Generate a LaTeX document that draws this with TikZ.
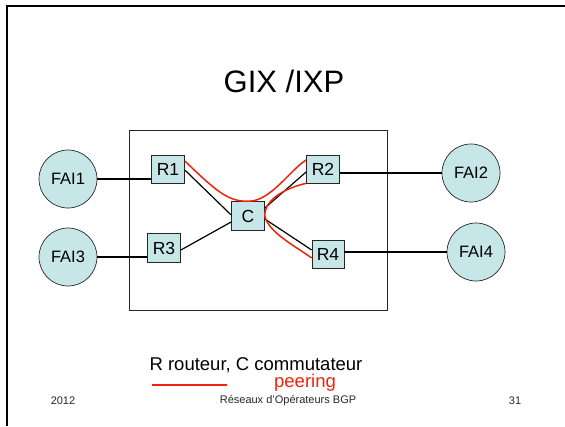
\documentclass[tikz,border=0pt]{standalone}
\usepackage{fontspec}
\setmainfont{Liberation Sans}
\definecolor{boxfill}{RGB}{198,230,232}
\definecolor{peer}{RGB}{240,36,12}
\definecolor{foot}{RGB}{40,40,40}
\begin{document}
\begin{tikzpicture}[x=1pt,y=-1pt,
  rbox/.style={draw=black!85,line width=0.7pt,fill=boxfill,minimum width=33pt,minimum height=28pt,inner sep=0pt,font=\fontsize{17.5}{17.5}\selectfont},
  fai/.style={circle,draw=black!85,line width=0.7pt,fill=boxfill,minimum size=58pt,inner sep=0pt,font=\fontsize{16.5}{16.5}\selectfont},
  link/.style={draw=black,line width=1.2pt},
  peerline/.style={draw=peer,line width=1.5pt},
  foottext/.style={text=foot,font=\fontsize{11}{11}\selectfont}]
\useasboundingbox (0,0) rectangle (565,426);
\fill[white] (0,0) rectangle (565,426);
% slide frame
\draw[line width=2pt] (6.5,426) -- (6.5,5.5) -- (565,5.5);
% title
\node[font=\fontsize{31}{31}\selectfont] (title) at (284,81) {GIX /IXP};
% IXP box
\draw[draw=black!85,line width=1pt] (129,130) rectangle (387,310);
% routers
\node[rbox] (R1) at (168,169) {R1};
\node[rbox] (R2) at (323,169) {R2};
\node[rbox,minimum height=29pt] (C) at (248,216) {C};
\node[rbox,minimum height=29pt] (R3) at (164,248) {R3};
\node[rbox,minimum width=32pt] (R4) at (328,254) {R4};
% ISPs
\node[fai] (F1) at (68,179) {FAI1};
\node[fai] (F3) at (68,257) {FAI3};
\node[fai] (F2) at (471,173) {FAI2};
\node[fai] (F4) at (476,252) {FAI4};
% access links
\draw[link] (F1.east) -- (F1.east -| R1.west);
\draw[link] (F3.east) -- (F3.east -| R3.west);
\draw[link] (F2.west) -- (F2.west -| R2.east);
\draw[link] (F4.west) -- (F4.west -| R4.east);
% switch links
\draw[link] ([yshift=-1pt]R1.east) -- ([yshift=1pt]C.west);
\draw[link] ([yshift=-2pt]R3.east) -- ([yshift=-6pt]C.west);
\draw[link] ([yshift=8pt]C.east) -- ([yshift=-3pt]R2.west);
\draw[link] ([yshift=-3pt]C.east) -- ([yshift=4pt]R4.west);
% peering
\draw[peerline] ([yshift=8pt]R1.east) .. controls (215,190) and (228,202) .. (C.north) .. controls (270,202) and (290,170) .. ([yshift=9pt]R2.west);
\draw[peerline] (R2.south west) .. controls (285,188) and (264,200) .. (C.east) .. controls (268,232) and (295,246) .. ([yshift=-4pt]R4.west);
% legend
\node[font=\fontsize{18.5}{18.5}\selectfont] (legend) at (256,365) {R routeur, C commutateur};
\coordinate (la) at (152,385);
\coordinate (lb) at (227,385);
\draw[peerline,line width=2pt] (la) -- (lb);
\node[text=peer,font=\fontsize{18.5}{18.5}\selectfont] (peering) at (305,383) {peering};
% footer
\node[foottext] (year) at (63,401) {2012};
\node[foottext] (foottitle) at (288,401) {Réseaux d'Opérateurs BGP};
\node[foottext] (page) at (515,401) {31};
\end{tikzpicture}
\end{document}
